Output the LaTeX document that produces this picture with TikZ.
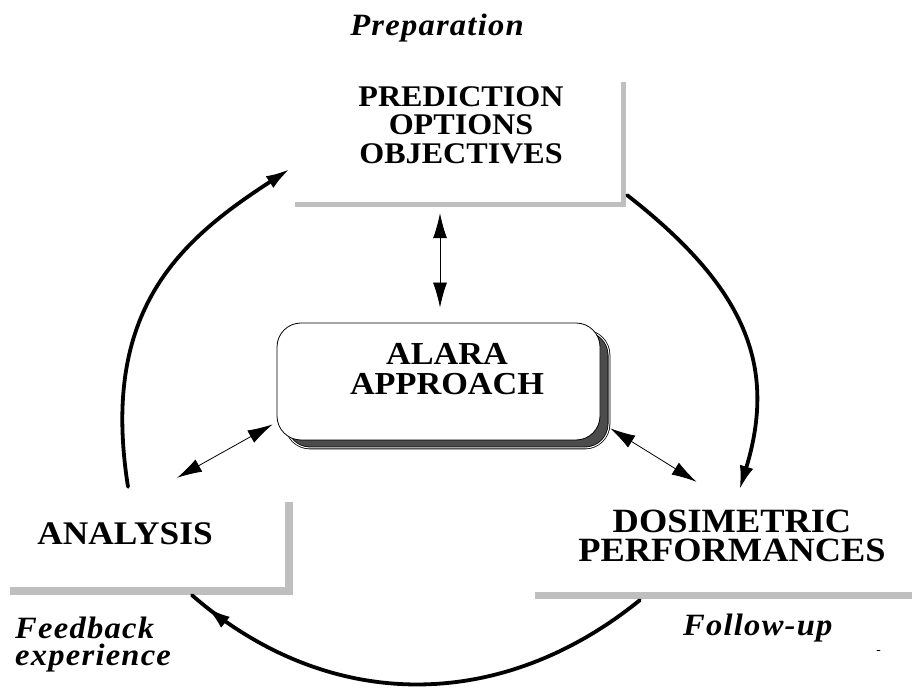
\documentclass[tikz,border=0pt]{standalone}
\usepackage{fontspec}
\setmainfont[FakeStretch=1.07]{Liberation Serif}
\newfontfamily\tagfont[FakeStretch=1.05,LetterSpace=4]{Liberation Serif}
\usetikzlibrary{arrows.meta,shadows,decorations.markings}

\begin{document}
\begin{tikzpicture}[x=1pt,y=1pt,line cap=round,line join=round,
  panel/.style={rectangle,fill=white,inner sep=0pt},
  ledge/.style={line width=#1,draw=black!25,line cap=butt,line join=miter},
  cyc/.style={line width=3.8pt,-{Latex[length=24pt,width=14pt]}},
  dbl/.style={line width=0.8pt,{Latex[length=25pt,width=14pt]}-{Latex[length=25pt,width=14pt]}},
  tag/.style={inner sep=0pt,font=\tagfont\bfseries\itshape\fontsize{31}{27}\selectfont}]
  \useasboundingbox (0,0) rectangle (912,688);
  % boxes
  \node[panel,minimum width=326,minimum height=120] (pred) at (458,546) {};
  \draw[ledge=5pt] ([xshift=2.5]pred.north east) -- ([shift={(2.5,-2.5)}]pred.south east) -- ([yshift=-2.5]pred.south west);
  \node[panel,minimum width=275,minimum height=85] (anal) at (147.5,143.5) {};
  \draw[ledge=8pt] ([xshift=4]anal.north east) -- ([shift={(4,-4)}]anal.south east) -- ([yshift=-4]anal.south west);
  \node[panel,minimum width=377,minimum height=97] (dosi) at (723.5,144.5) {};
  \draw[ledge=7pt] ([yshift=-3.5]dosi.south west) -- ([yshift=-3.5]dosi.south east);
  \node[panel,draw=black,line width=0.8pt,rounded corners=24pt,minimum width=323,minimum height=117,
    drop shadow={shadow xshift=9pt,shadow yshift=-8pt,fill=black!70,draw=black,double=white,double distance=1pt,opacity=1}] (alara) at (438.5,306.5) {};
  % texts
  \node[align=center,inner sep=0pt,font=\bfseries\fontsize{30}{28.5}\selectfont] (predtxt) at (461,563) {PREDICTION\\OPTIONS\\OBJECTIVES};
  \node[align=center,inner sep=0pt,font=\bfseries\fontsize{32}{30}\selectfont] (alaratxt) at (447,319) {ALARA\\APPROACH};
  \node[inner sep=0pt,font=\bfseries\fontsize{33}{30}\selectfont] (analtxt) at (125,154.5) {ANALYSIS};
  \node[align=center,inner sep=0pt,font=\bfseries\fontsize{34}{29}\selectfont] (dositxt) at (732,152) {DOSIMETRIC\\PERFORMANCES};
  \node[tag,anchor=base] (prep) at (437,652) {Preparation};
  \node[tag,anchor=base west] (follow) at (683,53) {Follow-up};
  \node[tag,align=left,anchor=north west] (feed) at (15,71) {Feedback\\experience};
  \draw[line width=0.6pt] (877,38) -- (880,38);
  % links to the approach
  \draw[dbl] ([shift={(-18,-11)}]pred.south) -- ([shift={(1.5,15)}]alara.north);
  \draw[dbl] ([shift={(-4,16)}]alara.south west) -- ([shift={(29.5,24)}]anal.north);
  \draw[dbl] ([shift={(10,12)}]alara.south east) -- ([shift={(-27,13)}]dosi.north);
  % the cycle
  \draw[cyc] ([shift={(-19.5,15)}]anal.north) .. controls +(99:180) and +(213:130) .. ([shift={(-5,-27)}]pred.west);
  \draw[cyc] ([shift={(6,7)}]pred.south east) .. controls +(-38:150) and +(73:130) .. ([shift={(16,5)}]dosi.north);
  \draw[line width=3.8pt,postaction={decorate},decoration={markings,mark=at position -19pt with {\arrow{Latex[length=24pt,width=14pt]}}}]
    ([shift={(105,-8)}]dosi.south west) .. controls +(219:180) and +(319:180) .. ([shift={(44.5,-8)}]anal.south);
\end{tikzpicture}
\end{document}
